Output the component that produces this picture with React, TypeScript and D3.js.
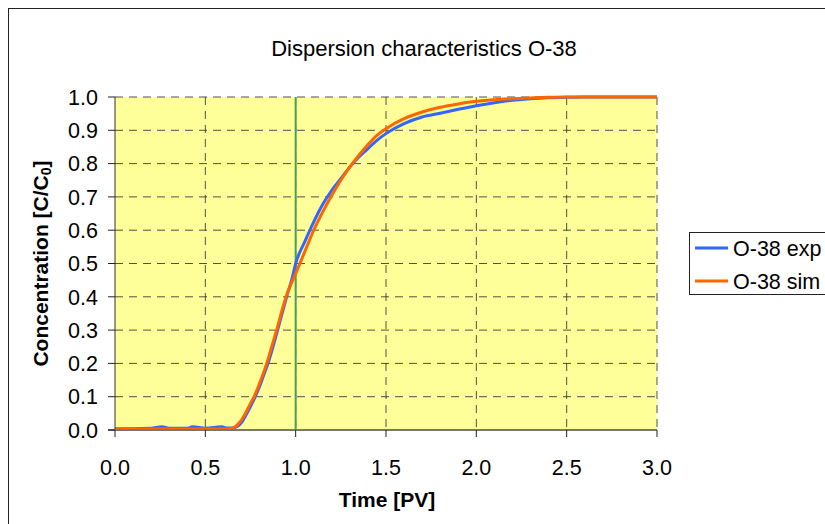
import React from "react";
import * as d3 from "d3";

const title = "Dispersion characteristics O-38";
const xTicks = [0, 0.5, 1.0, 1.5, 2.0, 2.5, 3.0];
const xTickLabels = ["0.0", "0.5", "1.0", "1.5", "2.0", "2.5", "3.0"];
const yTicks = [0, 0.1, 0.2, 0.3, 0.4, 0.5, 0.6, 0.7, 0.8, 0.9, 1.0];
const yTickLabels = ["0.0", "0.1", "0.2", "0.3", "0.4", "0.5", "0.6", "0.7", "0.8", "0.9", "1.0"];
const markerTime = 1.0;

const expTime = [0, 0.1, 0.2, 0.26, 0.3, 0.4, 0.43, 0.5, 0.59, 0.62, 0.65, 0.68, 0.7, 0.72, 0.75, 0.78, 0.8, 0.83, 0.85, 0.88, 0.9, 0.93, 0.95, 0.98, 1.0, 1.05, 1.1, 1.15, 1.2, 1.25, 1.3, 1.35, 1.4, 1.45, 1.5, 1.6, 1.7, 1.8, 1.9, 2.0, 2.1, 2.2, 2.3, 2.4, 2.5, 2.6, 3.0];
const expConc = [0.004, 0.004, 0.005, 0.01, 0.005, 0.005, 0.01, 0.005, 0.01, 0.006, 0.006, 0.012, 0.022, 0.04, 0.07, 0.105, 0.13, 0.175, 0.205, 0.26, 0.3, 0.36, 0.4, 0.455, 0.5, 0.565, 0.625, 0.678, 0.72, 0.755, 0.79, 0.82, 0.845, 0.87, 0.89, 0.92, 0.94, 0.951, 0.963, 0.974, 0.983, 0.99, 0.995, 0.998, 0.999, 1.0, 1.0];

const simTime = [0, 0.6, 0.64, 0.66, 0.68, 0.7, 0.72, 0.75, 0.77, 0.8, 0.84, 0.87, 0.9, 0.93, 0.95, 0.98, 1.0, 1.05, 1.1, 1.15, 1.2, 1.25, 1.3, 1.35, 1.4, 1.45, 1.5, 1.6, 1.7, 1.8, 1.9, 2.0, 2.1, 2.2, 2.3, 2.4, 2.5, 3.0];
const simConc = [0.003, 0.003, 0.004, 0.008, 0.017, 0.03, 0.048, 0.08, 0.1, 0.14, 0.2, 0.255, 0.31, 0.37, 0.405, 0.445, 0.47, 0.535, 0.6, 0.655, 0.705, 0.75, 0.79, 0.825, 0.857, 0.885, 0.905, 0.935, 0.955, 0.969, 0.979, 0.987, 0.992, 0.995, 0.997, 0.999, 1.0, 1.0];

const seriesNames = ["O-38 exp", "O-38 sim"];
const seriesColors = ["#3366FF", "#FF6600"];

export default function App() {
  const W = 825, H = 524;
  const L = 115, R = 657, T = 97, B = 430;
  const x = d3.scaleLinear().domain([0, 3]).range([L, R]);
  const y = d3.scaleLinear().domain([0, 1]).range([B, T]);
  const line = d3.line<[number, number]>().x(d => x(d[0])).y(d => y(d[1])).curve(d3.curveMonotoneX);
  const expPts = expTime.map((t, i) => [t, expConc[i]] as [number, number]);
  const simPts = simTime.map((t, i) => [t, simConc[i]] as [number, number]);
  const font = "'Liberation Sans', Arial, Helvetica, sans-serif";
  const grid = "#333333";

  return (
    <svg width={W} height={H} style={{ position: "absolute", left: 0, top: 0, background: "#fff" }} fontFamily={font}>
      <rect x={8.5} y={8.5} width={900} height={600} fill="#fff" stroke="#222" strokeWidth={1} />
      <text x={424} y={56} textAnchor="middle" fontSize={22} fill="#000">{title}</text>
      <rect x={L} y={T} width={R - L} height={B - T} fill="#FFFF99" />
      {yTicks.slice(1).map((v, i) => (
        <line key={"gy" + i} x1={L} x2={R} y1={y(v)} y2={y(v)} stroke={grid} strokeWidth={1} strokeDasharray="8,6" opacity={0.85} />
      ))}
      {xTicks.slice(1).map((v, i) => (
        <line key={"gx" + i} x1={x(v)} x2={x(v)} y1={T} y2={B} stroke={grid} strokeWidth={1} strokeDasharray="8,6" opacity={0.85} />
      ))}
      <line x1={x(markerTime)} x2={x(markerTime)} y1={T} y2={B} stroke="#4A9E5C" strokeWidth={2} />
      <path d={line(expPts) || ""} fill="none" stroke={seriesColors[0]} strokeWidth={3} strokeLinejoin="round" />
      <path d={line(simPts) || ""} fill="none" stroke={seriesColors[1]} strokeWidth={3} strokeLinejoin="round" />
      <line x1={L} x2={L} y1={T} y2={B} stroke="#333" strokeWidth={1} />
      <line x1={L - 7} x2={R} y1={B} y2={B} stroke="#777" strokeWidth={2} />
      {yTicks.map((v, i) => (
        <g key={"ty" + i}>
          <line x1={L - 7} x2={L} y1={y(v)} y2={y(v)} stroke="#222" strokeWidth={1} />
          <text x={98} y={y(v)} dy="0.36em" textAnchor="end" fontSize={21.5} fill="#000">{yTickLabels[i]}</text>
        </g>
      ))}
      {xTicks.map((v, i) => (
        <g key={"tx" + i}>
          <line x1={x(v)} x2={x(v)} y1={B} y2={B + 7} stroke="#222" strokeWidth={1} />
          <text x={x(v)} y={475} textAnchor="middle" fontSize={21.5} fill="#000">{xTickLabels[i]}</text>
        </g>
      ))}
      <text x={387} y={507} textAnchor="middle" fontSize={21} fontWeight="bold" fill="#000">Time [PV]</text>
      <text transform={`translate(48, ${(T + B) / 2}) rotate(-90)`} textAnchor="middle" fontSize={21} fontWeight="bold" fill="#000">
        Concentration [C/C<tspan fontSize={14} dy={3}>0</tspan><tspan dy={-3}>]</tspan>
      </text>
      <rect x={689.5} y={232.5} width={200} height={62} fill="#fff" stroke="#222" strokeWidth={1} />
      {seriesNames.map((n, i) => (
        <g key={"lg" + i}>
          <line x1={695} x2={728} y1={248 + i * 33} y2={248 + i * 33} stroke={seriesColors[i]} strokeWidth={3} />
          <text x={733} y={248 + i * 33} dy="0.36em" fontSize={21.5} fill="#000">{n}</text>
        </g>
      ))}
    </svg>
  );
}
